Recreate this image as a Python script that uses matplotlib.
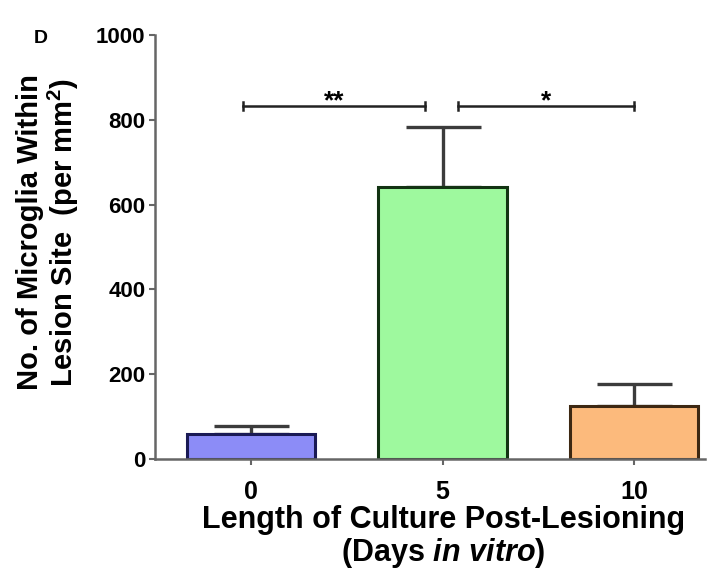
import matplotlib
matplotlib.use('Agg')
import matplotlib.pyplot as plt
import numpy as np

plt.rcParams['font.family'] = ['Liberation Sans', 'DejaVu Sans']
plt.rcParams['font.weight'] = 'bold'
plt.rcParams['mathtext.fontset'] = 'custom'
plt.rcParams['mathtext.rm'] = 'Liberation Sans:bold'
plt.rcParams['mathtext.bf'] = 'Liberation Sans:bold'
plt.rcParams['mathtext.it'] = 'Liberation Sans:italic:bold'
plt.rcParams['mathtext.bfit'] = 'Liberation Sans:italic:bold'

# Microglia counts per culture day (mean and upper error)
days = ['0', '5', '10']
means = [60, 642, 125]
errors = [18, 142, 53]
fills = ['#8c8cf7', '#9ef99e', '#fcba7c']
edges = ['#1a1a55', '#123312', '#3d2812']

# significance brackets: (start, end, height, label)
brackets = [(-0.04, 0.91, 832, '**'), (1.08, 2.0, 832, '*')]

fig = plt.figure(figsize=(7.18, 5.82), dpi=100)
ax = fig.add_axes([0.216, 0.211, 0.766, 0.729])

x = np.arange(len(days))
ax.bar(x, means, width=0.67, color=fills, edgecolor=edges, linewidth=2.2, zorder=2)
ax.errorbar(x, means, yerr=[np.zeros(len(means)), errors], fmt='none',
            ecolor='#3c3c3c', elinewidth=2.4, capsize=27, capthick=2.4, zorder=1)

for x0, x1, h, lab in brackets:
    ax.plot([x0, x1], [h, h], color='#222222', lw=1.8)
    ax.plot([x0, x0], [h - 10, h + 10], color='#222222', lw=1.8)
    ax.plot([x1, x1], [h - 10, h + 10], color='#222222', lw=1.8)
    ax.text((x0 + x1) / 2, h - 4, lab, ha='center', va='baseline', fontsize=19, fontweight='bold')

ax.set_xlim(-0.5, 2.37)
ax.set_ylim(0, 1000)
ax.set_yticks([0, 200, 400, 600, 800, 1000])
ax.set_xticks(x)
ax.set_xticklabels(days)

for s in ['top', 'right']:
    ax.spines[s].set_visible(False)
for s in ['left', 'bottom']:
    ax.spines[s].set_color('#666666')
    ax.spines[s].set_linewidth(1.8)
ax.tick_params(axis='both', length=4, width=1.5, color='#666666', labelsize=16, pad=3)
ax.tick_params(axis='x', labelsize=18, pad=11)

ax.set_ylabel('No. of Microglia Within\nLesion Site  (per mm$^\\mathbf{2}$)', fontsize=21,
              fontweight='bold', linespacing=1.05)
ax.yaxis.set_label_coords(-0.135, 0.535)
ax.set_xlabel('Length of Culture Post-Lesioning\n(Days $\\mathit{in\\ vitro}$)', fontsize=22,
              fontweight='bold', linespacing=1.05)
ax.xaxis.set_label_coords(0.524, -0.108)

fig.text(0.057, 0.934, 'D', fontsize=14, fontweight='bold', ha='center', va='center')

fig.savefig('out.png', dpi=100)
